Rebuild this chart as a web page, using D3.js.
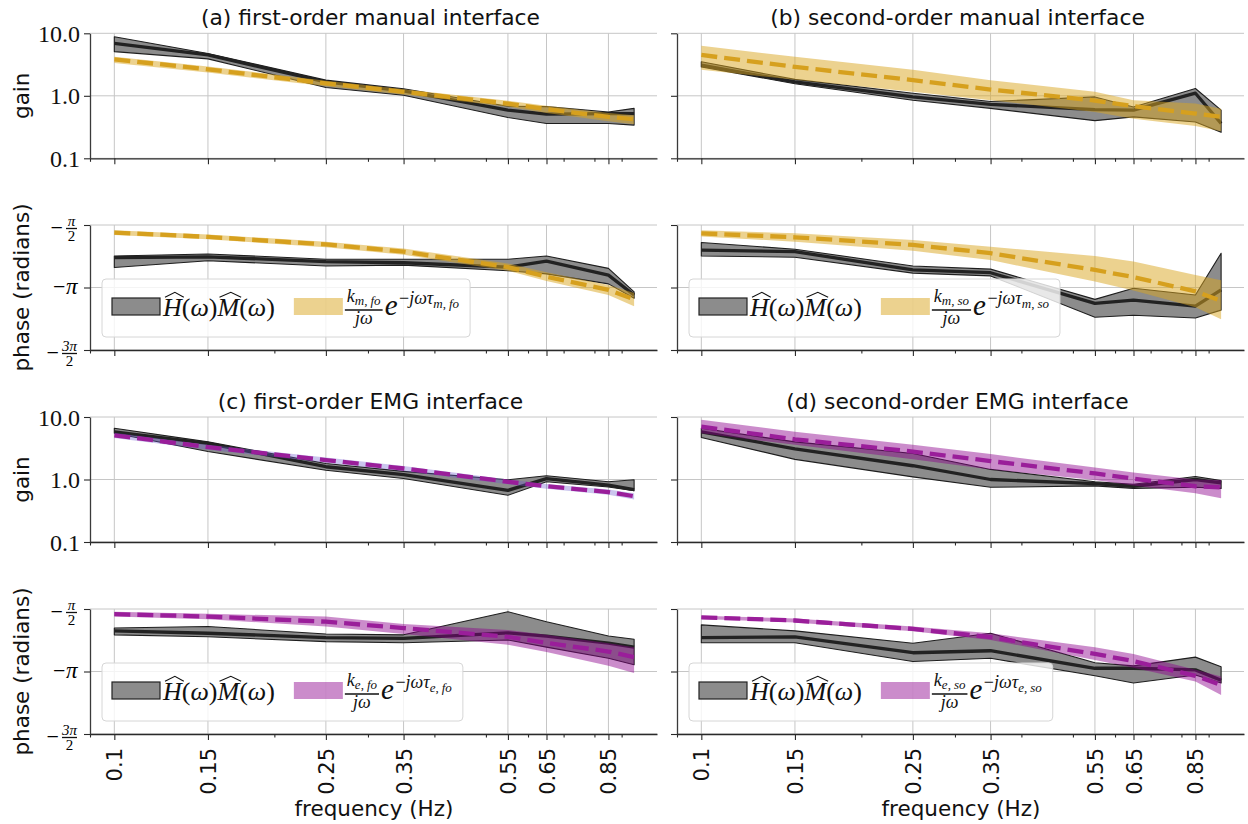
<!DOCTYPE html>
<html>
<head>
<meta charset="utf-8">
<script src="https://cdn.jsdelivr.net/npm/d3@7"></script>
<style>
  body { margin: 0; background: #fff; }
  svg { display: block; }
</style>
</head>
<body>
<svg id="chart" width="1248" height="824"></svg>
<script>
// frequencies where the response was measured
const freqs = [0.1, 0.15, 0.25, 0.35, 0.55, 0.65, 0.85, 0.95];
const freqTicks = [0.1, 0.15, 0.25, 0.35, 0.55, 0.65, 0.85];
const freqMinor = [0.09, 0.2, 0.3, 0.4, 0.5, 0.6, 0.7, 0.8, 0.9];
const gainTicks = [0.1, 1, 10];
const phaseTicks = [-Math.PI / 2, -Math.PI, -3 * Math.PI / 2];

// (a) first-order manual interface
const aGain = [6.9, 4.5, 1.67, 1.2, 0.59, 0.51, 0.52, 0.52];
const aGainLo = [5.1, 3.9, 1.36, 1.02, 0.45, 0.36, 0.36, 0.34];
const aGainHi = [8.8, 4.75, 1.78, 1.3, 0.68, 0.67, 0.55, 0.63];
const aGainFit = [3.83, 2.65, 1.58, 1.16, 0.75, 0.61, 0.46, 0.42];
const aGainFitLo = [3.35, 2.35, 1.42, 1.05, 0.67, 0.53, 0.39, 0.35];
const aGainFitHi = [4.2, 2.95, 1.74, 1.27, 0.83, 0.69, 0.53, 0.49];
const aPhase = [-2.39, -2.37, -2.49, -2.52, -2.63, -2.48, -2.83, -3.33];
const aPhaseLo = [-2.64, -2.47, -2.6, -2.58, -2.72, -2.8, -3.05, -3.41];
const aPhaseHi = [-2.35, -2.3, -2.43, -2.43, -2.43, -2.35, -2.66, -3.25];
const aPhaseFit = [-1.76, -1.87, -2.06, -2.24, -2.63, -2.87, -3.2, -3.44];
const aPhaseFitLo = [-1.82, -1.93, -2.13, -2.32, -2.72, -2.98, -3.33, -3.61];
const aPhaseFitHi = [-1.7, -1.81, -1.99, -2.16, -2.54, -2.76, -3.08, -3.28];

// (b) second-order manual interface
const bGain = [3.1, 1.67, 0.96, 0.73, 0.6, 0.59, 1.1, 0.36];
const bGainLo = [2.9, 1.56, 0.85, 0.63, 0.4, 0.46, 0.38, 0.26];
const bGainHi = [3.5, 1.83, 1.1, 0.81, 0.96, 0.66, 1.31, 0.59];
const bGainFit = [4.5, 2.9, 1.78, 1.26, 0.84, 0.68, 0.52, 0.46];
const bGainFitLo = [2.6, 1.8, 1.16, 0.85, 0.55, 0.43, 0.33, 0.27];
const bGainFitHi = [6.3, 4.2, 2.6, 1.78, 1.16, 0.85, 0.75, 0.62];
const bPhase = [-2.2, -2.24, -2.7, -2.77, -3.54, -3.46, -3.61, -3.2];
const bPhaseLo = [-2.35, -2.38, -2.78, -2.85, -3.89, -3.84, -3.91, -3.71];
const bPhaseHi = [-2.01, -2.18, -2.6, -2.68, -3.44, -3.16, -3.33, -2.28];
const bPhaseFit = [-1.78, -1.88, -2.07, -2.28, -2.7, -2.88, -3.24, -3.48];
const bPhaseFitLo = [-1.86, -1.99, -2.22, -2.45, -2.99, -3.22, -3.64, -3.94];
const bPhaseFitHi = [-1.7, -1.78, -1.95, -2.12, -2.35, -2.49, -2.83, -2.96];

// (c) first-order EMG interface
const cGain = [5.8, 3.8, 1.6, 1.2, 0.67, 1.03, 0.81, 0.69];
const cGainLo = [5.5, 2.8, 1.41, 1.04, 0.56, 0.92, 0.76, 0.66];
const cGainHi = [6.6, 4.0, 1.8, 1.35, 0.99, 1.15, 0.92, 0.99];
const cGainFit = [5.1, 3.3, 2.05, 1.5, 0.92, 0.78, 0.63, 0.54];
const cGainFitLo = [4.6, 3.0, 1.85, 1.36, 0.84, 0.71, 0.57, 0.48];
const cGainFitHi = [5.6, 3.6, 2.25, 1.64, 1.0, 0.85, 0.69, 0.6];
const cPhase = [-2.12, -2.18, -2.29, -2.31, -2.17, -2.25, -2.43, -2.53];
const cPhaseLo = [-2.22, -2.27, -2.39, -2.42, -2.35, -2.53, -2.81, -2.97];
const cPhaseHi = [-2.05, -2.01, -2.2, -2.22, -1.64, -1.89, -2.25, -2.33];
const cPhaseFit = [-1.7, -1.76, -1.89, -2.05, -2.27, -2.42, -2.64, -2.78];
const cPhaseFitLo = [-1.76, -1.83, -2.01, -2.2, -2.47, -2.65, -3.0, -3.18];
const cPhaseFitHi = [-1.64, -1.69, -1.76, -1.95, -2.1, -2.22, -2.43, -2.53];

// (d) second-order EMG interface
const dGain = [5.8, 3.1, 1.66, 1.0, 0.86, 0.78, 1.0, 0.88];
const dGainLo = [4.7, 2.1, 1.1, 0.75, 0.79, 0.72, 0.75, 0.72];
const dGainHi = [6.6, 4.0, 2.6, 1.45, 0.92, 0.84, 1.12, 0.96];
const dGainFit = [7.0, 4.4, 2.8, 1.97, 1.25, 1.03, 0.78, 0.75];
const dGainFitLo = [5.5, 3.6, 2.1, 1.45, 0.98, 0.8, 0.6, 0.5];
const dGainFitHi = [9.0, 5.8, 3.6, 2.55, 1.55, 1.3, 1.0, 0.98];
const dPhase = [-2.29, -2.27, -2.67, -2.62, -3.06, -3.06, -3.1, -3.36];
const dPhaseLo = [-2.42, -2.42, -2.89, -2.81, -3.25, -3.43, -3.23, -3.43];
const dPhaseHi = [-1.97, -2.12, -2.43, -2.18, -2.92, -3.0, -2.78, -3.02];
const dPhaseFit = [-1.78, -1.86, -2.07, -2.28, -2.7, -2.88, -3.25, -3.48];
const dPhaseFitLo = [-1.82, -1.91, -2.13, -2.35, -2.85, -3.05, -3.39, -3.73];
const dPhaseFitHi = [-1.74, -1.81, -2.01, -2.18, -2.53, -2.7, -3.1, -3.27];

const manualColor = "#daa520";
const emgColor = "#8b008b";
const sans = "'DejaVu Sans', sans-serif";
const serif = "'Liberation Serif', 'DejaVu Serif', serif";

const svg = d3.select("#chart");

const colX = [90, 677];
const rowY = [33.3, 225, 417, 609];
const panelW = 567;
const panelH = 125;

const panels = [
  { col: 0, row: 0, kind: "gain", title: "(a) first-order manual interface", med: aGain, lo: aGainLo, hi: aGainHi, fit: aGainFit, fitLo: aGainFitLo, fitHi: aGainFitHi, color: manualColor, band: manualColor, bandOp: 0.5 },
  { col: 1, row: 0, kind: "gain", title: "(b) second-order manual interface", med: bGain, lo: bGainLo, hi: bGainHi, fit: bGainFit, fitLo: bGainFitLo, fitHi: bGainFitHi, color: manualColor, band: manualColor, bandOp: 0.5 },
  { col: 0, row: 1, kind: "phase", sub: ["m", "fo"], med: aPhase, lo: aPhaseLo, hi: aPhaseHi, fit: aPhaseFit, fitLo: aPhaseFitLo, fitHi: aPhaseFitHi, color: manualColor, band: manualColor, bandOp: 0.5 },
  { col: 1, row: 1, kind: "phase", sub: ["m", "so"], med: bPhase, lo: bPhaseLo, hi: bPhaseHi, fit: bPhaseFit, fitLo: bPhaseFitLo, fitHi: bPhaseFitHi, color: manualColor, band: manualColor, bandOp: 0.5 },
  { col: 0, row: 2, kind: "gain", title: "(c) first-order EMG interface", med: cGain, lo: cGainLo, hi: cGainHi, fit: cGainFit, fitLo: cGainFitLo, fitHi: cGainFitHi, color: emgColor, band: "#6a5acd", bandOp: 0.35 },
  { col: 1, row: 2, kind: "gain", title: "(d) second-order EMG interface", med: dGain, lo: dGainLo, hi: dGainHi, fit: dGainFit, fitLo: dGainFitLo, fitHi: dGainFitHi, color: emgColor, band: emgColor, bandOp: 0.45 },
  { col: 0, row: 3, kind: "phase", sub: ["e", "fo"], med: cPhase, lo: cPhaseLo, hi: cPhaseHi, fit: cPhaseFit, fitLo: cPhaseFitLo, fitHi: cPhaseFitHi, color: emgColor, band: emgColor, bandOp: 0.45 },
  { col: 1, row: 3, kind: "phase", sub: ["e", "so"], med: dPhase, lo: dPhaseLo, hi: dPhaseHi, fit: dPhaseFit, fitLo: dPhaseFitLo, fitHi: dPhaseFitHi, color: emgColor, band: emgColor, bandOp: 0.45 }
];

// lay out a line of math glyph by glyph, returns the x where it ends
function mathRun(g, x, y, parts) {
  let cx = x;
  parts.forEach(p => {
    const t = g.append("text")
      .attr("x", cx)
      .attr("y", y + (p.dy || 0))
      .attr("font-family", serif)
      .attr("font-size", p.size)
      .attr("font-style", p.it ? "italic" : "normal")
      .attr("fill", "#111")
      .text(p.t);
    const w = t.node().getComputedTextLength();
    if (p.hat) {
      const top = y - p.size * 0.68;
      g.append("path")
        .attr("d", `M${cx + 2},${top - 1}L${cx + w / 2 + 2.5},${top - 6}L${cx + w + 2},${top - 1}`)
        .attr("fill", "none")
        .attr("stroke", "#111")
        .attr("stroke-width", 1.1);
    }
    cx += w + (p.sp || 0);
  });
  return cx;
}

function subParts(sub, size, dy) {
  return [
    { t: sub[0], it: true, size: size, dy: dy },
    { t: ",", size: size, dy: dy, sp: 3 },
    { t: sub[1], it: true, size: size, dy: dy }
  ];
}

function drawLegend(g, bx, by, color, bandOp, sub) {
  const lg = g.append("g");
  const box = lg.append("rect")
    .attr("x", bx).attr("y", by)
    .attr("height", 58)
    .attr("rx", 4)
    .attr("fill", "#fff")
    .attr("fill-opacity", 0.8)
    .attr("stroke", "#d6d6d6")
    .attr("stroke-width", 1);

  lg.append("rect")
    .attr("x", bx + 10).attr("y", by + 19)
    .attr("width", 48).attr("height", 17)
    .attr("fill", "#8c8c8c")
    .attr("stroke", "#222")
    .attr("stroke-width", 1.2);

  const end1 = mathRun(lg, bx + 61, by + 37, [
    { t: "H", it: true, size: 26, hat: true },
    { t: "(", size: 26 }, { t: "ω", it: true, size: 26 }, { t: ")", size: 26 },
    { t: "M", it: true, size: 26, hat: true },
    { t: "(", size: 26 }, { t: "ω", it: true, size: 26 }, { t: ")", size: 26 }
  ]);

  const px = end1 + 19;
  lg.append("rect")
    .attr("x", px).attr("y", by + 19)
    .attr("width", 49).attr("height", 17)
    .attr("fill", color)
    .attr("fill-opacity", bandOp);

  const num = lg.append("g");
  const nw = mathRun(num, 0, 0, [{ t: "k", it: true, size: 18 }].concat(subParts(sub, 13, 3)));
  const den = lg.append("g");
  const dw = mathRun(den, 0, 0, [{ t: "jω", it: true, size: 18 }]);
  const fx = px + 51;
  const fw = Math.max(nw, dw) + 4;
  num.attr("transform", `translate(${fx + (fw - nw) / 2},${by + 23})`);
  den.attr("transform", `translate(${fx + (fw - dw) / 2},${by + 45})`);
  lg.append("line")
    .attr("x1", fx).attr("x2", fx + fw)
    .attr("y1", by + 31).attr("y2", by + 31)
    .attr("stroke", "#111").attr("stroke-width", 1.4);

  const end2 = mathRun(lg, fx + fw + 2, by + 36, [
    { t: "e", it: true, size: 29, sp: 1.5 },
    { t: "−", size: 18, dy: -11 },
    { t: "jωτ", it: true, size: 18, dy: -11 }
  ].concat(subParts(sub, 13, -7)));

  box.attr("width", end2 + 11 - bx);
}

function phaseLabel(g, x, y, k) {
  // k: 1 -> -pi/2, 2 -> -pi, 3 -> -3pi/2
  const right = x - 13;
  if (k === 2) {
    g.append("text").attr("x", right - 24).attr("y", y + 6)
      .attr("font-family", serif).attr("font-size", 22).text("−");
    g.append("text").attr("x", right - 11).attr("y", y + 6)
      .attr("font-family", serif).attr("font-size", 23).attr("font-style", "italic")
      .attr("text-anchor", "start").text("π");
    return;
  }
  const numTxt = k === 1 ? "π" : "3π";
  const bw = k === 1 ? 11 : 15;
  const fx = right - bw;
  g.append("line").attr("x1", fx).attr("x2", right)
    .attr("y1", y + 3.5).attr("y2", y + 3.5)
    .attr("stroke", "#111").attr("stroke-width", 1.3);
  g.append("text").attr("x", fx + bw / 2).attr("y", y + 0.5)
    .attr("font-family", serif).attr("font-size", 15).attr("text-anchor", "middle")
    .attr("font-style", "italic").text(numTxt);
  g.append("text").attr("x", fx + bw / 2).attr("y", y + 16)
    .attr("font-family", serif).attr("font-size", 15).attr("text-anchor", "middle")
    .text("2");
  g.append("text").attr("x", fx - 3).attr("y", y + 9.5)
    .attr("font-family", serif).attr("font-size", 22).attr("text-anchor", "end")
    .text("−");
}

panels.forEach(p => {
  const left = colX[p.col];
  const top = rowY[p.row];
  const g = svg.append("g").attr("transform", `translate(${left},${top})`);

  const x = d3.scaleLog().domain([0.09, 1.049]).range([0, panelW]);
  const y = p.kind === "gain"
    ? d3.scaleLog().domain([0.1, 10]).range([panelH, 0])
    : d3.scaleLinear().domain([-3 * Math.PI / 2, -Math.PI / 2]).range([panelH, 0]);
  const yTicks = p.kind === "gain" ? gainTicks : phaseTicks;

  // grid
  g.append("g").selectAll("line.vg").data(freqTicks).join("line")
    .attr("x1", d => x(d)).attr("x2", d => x(d))
    .attr("y1", 0).attr("y2", panelH)
    .attr("stroke", "#c6c6c6").attr("stroke-width", 1);
  g.append("g").selectAll("line.hg").data(yTicks).join("line")
    .attr("x1", 0).attr("x2", panelW)
    .attr("y1", d => y(d)).attr("y2", d => y(d))
    .attr("stroke", "#c6c6c6").attr("stroke-width", 1);

  const idx = d3.range(freqs.length);
  const area = (lo, hi) => d3.area()
    .x(i => x(freqs[i]))
    .y0(i => y(lo[i]))
    .y1(i => y(hi[i]));
  const line = arr => d3.line()
    .x(i => x(freqs[i]))
    .y(i => y(arr[i]));

  // measured response band and median
  g.append("path")
    .attr("d", area(p.lo, p.hi)(idx) + "Z")
    .attr("fill", "#8c8c8c")
    .attr("stroke", "#1e1e1e")
    .attr("stroke-width", 1.1)
    .attr("stroke-linejoin", "round");
  g.append("path")
    .attr("d", line(p.med)(idx))
    .attr("fill", "none")
    .attr("stroke", "#222")
    .attr("stroke-width", 3.3)
    .attr("stroke-linejoin", "round");

  // model fit band and dashed fit
  g.append("path")
    .attr("d", area(p.fitLo, p.fitHi)(idx))
    .attr("fill", p.band)
    .attr("fill-opacity", p.bandOp);
  g.append("path")
    .attr("d", line(p.fit)(idx))
    .attr("fill", "none")
    .attr("stroke", p.color === emgColor ? "#9a1e9a" : "#d6a01e")
    .attr("stroke-width", 4.3)
    .attr("stroke-dasharray", "16,7");

  // axes
  const isBottom = p.row === 3;
  const xMajor = g.append("g")
    .attr("transform", `translate(0,${panelH})`)
    .call(d3.axisBottom(x).tickValues(freqTicks).tickSize(6).tickSizeOuter(0)
      .tickFormat(isBottom ? d3.format("") : () => ""));
  g.append("g")
    .attr("transform", `translate(0,${panelH})`)
    .call(d3.axisBottom(x).tickValues(freqMinor).tickSize(3.5).tickSizeOuter(0).tickFormat(() => ""))
    .call(a => a.select(".domain").remove());
  xMajor.select(".domain").attr("stroke", "#2a2a2a").attr("stroke-width", 1.3);
  g.selectAll(".tick line").attr("stroke", "#2a2a2a").attr("stroke-width", 1.1);

  if (isBottom) {
    xMajor.selectAll(".tick text")
      .attr("font-family", sans)
      .attr("font-size", 21)
      .attr("fill", "#111")
      .attr("text-anchor", "end")
      .attr("transform", "translate(0,14) rotate(-90)")
      .attr("x", 0).attr("y", 0)
      .attr("dy", "0.36em");
    g.append("text")
      .attr("x", panelW / 2 + 0.5)
      .attr("y", 207)
      .attr("text-anchor", "middle")
      .attr("font-family", sans)
      .attr("font-size", 21.5)
      .attr("fill", "#111")
      .text("frequency (Hz)");
  }

  const yAxis = g.append("g")
    .call(d3.axisLeft(y).tickValues(yTicks).tickSize(6).tickSizeOuter(0)
      .tickFormat(p.kind === "gain" && p.col === 0 ? d3.format(".1f") : () => ""));
  yAxis.select(".domain").attr("stroke", "#3a3a3a").attr("stroke-width", 1.3);
  yAxis.selectAll(".tick line").attr("stroke", "#2a2a2a").attr("stroke-width", 1.1);
  yAxis.selectAll(".tick text")
    .attr("font-family", serif)
    .attr("font-size", 24)
    .attr("fill", "#111")
    .attr("x", -10)
    .attr("dy", "0.34em");

  if (p.kind === "phase" && p.col === 0) {
    phaseTicks.forEach((t, i) => phaseLabel(g, 0, y(t), i + 1));
  }

  if (p.col === 0) {
    g.append("text")
      .attr("transform", `translate(-61,${panelH / 2}) rotate(-90)`)
      .attr("text-anchor", "middle")
      .attr("font-family", sans)
      .attr("font-size", 21.5)
      .attr("fill", "#111")
      .text(p.kind === "gain" ? "gain" : "phase (radians)");
  }

  if (p.title) {
    g.append("text")
      .attr("x", panelW / 2 - 3)
      .attr("y", -8.5)
      .attr("text-anchor", "middle")
      .attr("font-family", sans)
      .attr("font-size", 21.8)
      .attr("fill", "#111")
      .text(p.title);
  }

  if (p.kind === "phase") {
    drawLegend(g, 12, 54, p.band, p.bandOp, p.sub);
  }
});
</script>
</body>
</html>
